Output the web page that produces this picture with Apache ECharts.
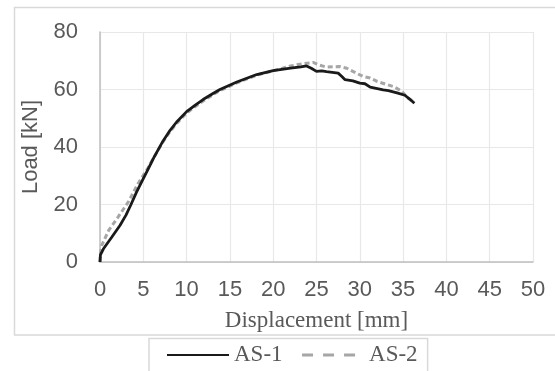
<!DOCTYPE html>
<html>
<head>
<meta charset="utf-8">
<script src="https://cdn.jsdelivr.net/npm/echarts@6/dist/echarts.min.js"></script>
<style>
html,body{margin:0;padding:0;background:#fff;}
#c{width:555px;height:371px;}
</style>
</head>
<body>
<div id="c"></div>
<script>
var seriesNames = ['AS-1', 'AS-2'];
var xTicks = [0, 5, 10, 15, 20, 25, 30, 35, 40, 45, 50];
var yTicks = [0, 20, 40, 60, 80];
var as1 = [[0,0],[0.05,2.5],[0.4,4.6],[1.35,8.6],[2.3,12.7],[3.0,16.3],[3.58,20],[4.23,24.4],[5,29],[5.6,32.6],[6.2,36.2],[6.85,39.8],[7.3,42.2],[8,45.4],[8.85,48.7],[10,52.3],[11,54.6],[11.9,56.5],[13,58.5],[13.85,60],[15.8,62.6],[18.1,65.2],[20,66.6],[22,67.4],[23.2,67.9],[23.85,68.2],[24.4,67.4],[25,66.3],[25.6,66.5],[26.15,66.2],[27.5,65.7],[27.9,64.6],[28.3,63.4],[29.2,63],[30,62.2],[30.6,62],[31.2,60.8],[32.7,59.9],[33.3,59.6],[34.3,58.8],[35.2,58],[35.8,56.6],[36.3,55.2]];
var as2 = [[0,0],[0.05,3],[0.2,5.8],[1.0,11],[2.1,15.7],[3.27,20.9],[4.4,27.3],[5.5,32.5],[6.2,36.3],[6.85,39.6],[7.3,41.9],[8,45],[8.85,48.2],[10,51.8],[11,54.1],[11.9,56],[13,58.1],[13.85,59.6],[15.8,62.3],[18.1,65],[20,66.5],[22,68.2],[23.5,69],[24.6,69.4],[25.3,68.5],[26.15,67.8],[27.7,68],[28.5,67.4],[29.2,66.3],[30.4,64.5],[31.2,64],[32,62.8],[33.9,61],[34.8,59.5],[35.5,57.2],[36.2,55.5]];

var chart = echarts.init(document.getElementById('c'));
var labelColor = '#595959';
chart.setOption({
  animation: false,
  graphic: [{
    type: 'rect',
    shape: {x: 14.5, y: 7.5, width: 600, height: 327.5},
    style: {fill: 'none', stroke: '#d9d9d9', lineWidth: 1.5},
    silent: true, z: -1
  }],
  grid: {left: 100, top: 32, right: 22, bottom: 109},
  legend: {
    left: 149, top: 338.5,
    padding: [5, 10, 8, 17],
    itemGap: 18,
    itemWidth: 62, itemHeight: 14,
    borderColor: '#d9d9d9', borderWidth: 1.5,
    itemStyle: {opacity: 0},
    textStyle: {fontFamily: 'Liberation Serif', fontSize: 23, color: labelColor},
    data: [
      {name: seriesNames[0]},
      {name: seriesNames[1], lineStyle: {type: [11, 10], width: 3, color: '#a6a6a6'}}
    ]
  },
  xAxis: {
    type: 'value', min: 0, max: 50, interval: 5,
    name: 'Displacement [mm]', nameLocation: 'middle', nameGap: 47,
    nameTextStyle: {fontFamily: 'Liberation Serif', fontSize: 23, color: labelColor},
    axisLine: {show: true, lineStyle: {color: '#bfbfbf', width: 1.5}},
    axisTick: {show: false},
    axisLabel: {fontFamily: 'Liberation Sans', fontSize: 22, color: labelColor, margin: 17,
      formatter: function(v){ return xTicks.indexOf(v) >= 0 ? String(v) : ''; }},
    splitLine: {show: true, lineStyle: {color: '#e8e8e8', width: 1.2}}
  },
  yAxis: {
    type: 'value', min: 0, max: 80, interval: 20,
    name: 'Load [kN]', nameLocation: 'middle', nameGap: 58,
    nameTextStyle: {fontFamily: 'Liberation Sans', fontSize: 22, color: labelColor},
    axisLine: {show: true, lineStyle: {color: '#bfbfbf', width: 1.5}},
    axisTick: {show: false},
    axisLabel: {fontFamily: 'Liberation Sans', fontSize: 22, color: labelColor, margin: 22,
      formatter: function(v){ return yTicks.indexOf(v) >= 0 ? String(v) : ''; }},
    splitLine: {show: true, lineStyle: {color: '#e8e8e8', width: 1.2}}
  },
  series: [
    {name: seriesNames[0], type: 'line', data: as1, symbol: 'none', z: 3,
      lineStyle: {color: '#1a1a1a', width: 2.8}, itemStyle: {color: '#1a1a1a'}},
    {name: seriesNames[1], type: 'line', data: as2, symbol: 'none', z: 2,
      lineStyle: {color: '#a6a6a6', width: 3, type: [5, 3]}, itemStyle: {color: '#a6a6a6'}}
  ]
});
</script>
</body>
</html>
